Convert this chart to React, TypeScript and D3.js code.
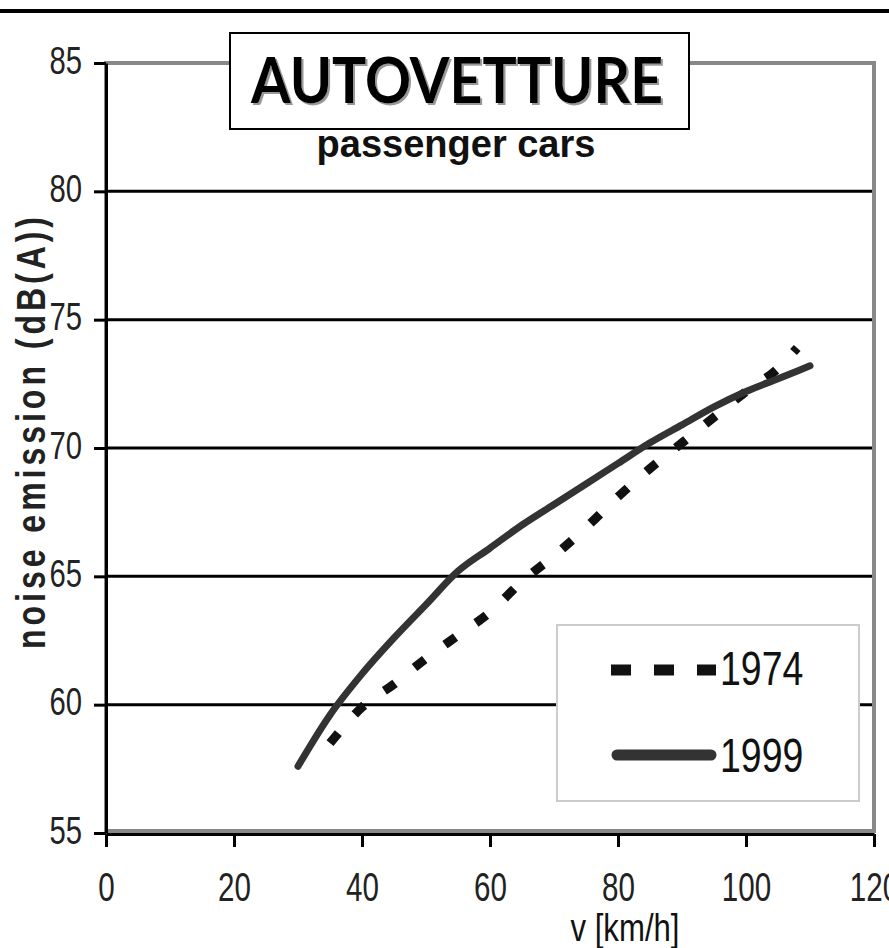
import React, { useEffect, useRef } from 'react';
import * as d3 from 'd3';

// values
const speeds1974 = [35, 40, 45, 50, 55, 60, 65, 70, 75, 80, 85, 90, 95, 100, 105, 108];
const noise1974 = [58.5, 59.9, 60.8, 61.8, 62.7, 63.6, 64.8, 65.8, 66.9, 68.1, 69.2, 70.2, 71.2, 72.2, 73.1, 73.9];
const speeds1999 = [30, 35, 40, 45, 50, 55, 60, 65, 70, 75, 80, 85, 90, 95, 100, 105, 110];
const noise1999 = [57.6, 59.6, 61.2, 62.6, 63.9, 65.2, 66.1, 67.0, 67.8, 68.6, 69.4, 70.2, 70.9, 71.6, 72.2, 72.7, 73.2];
const years = ['1974', '1999'];
const xTicks = [0, 20, 40, 60, 80, 100, 120];
const yTicks = [55, 60, 65, 70, 75, 80, 85];

const W = 889;
const H = 948;
const FONT = '"Liberation Sans", Arial, sans-serif';

const App: React.FC = () => {
  const svgRef = useRef<SVGSVGElement>(null);

  useEffect(() => {
    if (!svgRef.current) return;
    const svg = d3.select(svgRef.current);
    svg.selectAll('*').remove();

    const x = d3.scaleLinear().domain([0, 120]).range([106, 874]);
    const y = d3.scaleLinear().domain([55, 85]).range([833, 63]);

    // drop shadow for the title
    const filter = svg.append('defs').append('filter')
      .attr('id', 'titleShadow')
      .attr('x', '-5%').attr('y', '-10%').attr('width', '110%').attr('height', '130%');
    filter.append('feDropShadow')
      .attr('dx', 2).attr('dy', 2).attr('stdDeviation', 0.4)
      .attr('flood-color', '#999').attr('flood-opacity', 1);

    svg.append('rect').attr('width', W).attr('height', H).attr('fill', '#fff');

    // rule across the top
    svg.append('rect').attr('x', 0).attr('y', 9).attr('width', W).attr('height', 4).attr('fill', '#000');

    // grey plot frame
    svg.append('rect')
      .attr('x', x(0)).attr('y', y(85))
      .attr('width', x(120) - x(0)).attr('height', y(55) - y(85) - 2)
      .attr('fill', 'none').attr('stroke', '#888').attr('stroke-width', 4);

    // grid lines
    svg.append('g').selectAll('line')
      .data(yTicks.filter(t => t > 55 && t < 85))
      .enter().append('line')
      .attr('x1', x(0)).attr('x2', x(120) - 2)
      .attr('y1', d => y(d)).attr('y2', d => y(d))
      .attr('stroke', '#000').attr('stroke-width', 3);

    // y axis
    const yAxis = svg.append('g')
      .attr('transform', `translate(${x(0)},0)`)
      .call(d3.axisLeft(y).tickValues(yTicks).tickSize(12).tickSizeOuter(0).tickFormat(d3.format('d')));
    yAxis.select('.domain').attr('stroke', '#000').attr('stroke-width', 3);
    yAxis.selectAll('.tick line').attr('stroke', '#000').attr('stroke-width', 3);
    yAxis.selectAll('.tick text')
      .attr('x', null).attr('dy', null)
      .attr('transform', 'translate(-24,10) scale(0.75,1)')
      .attr('text-anchor', 'end')
      .attr('font-size', 39).attr('font-family', FONT).attr('fill', '#222');

    // x axis
    const xAxis = svg.append('g')
      .attr('transform', `translate(0,${y(55) + 1})`)
      .call(d3.axisBottom(x).tickValues(xTicks).tickSize(13).tickSizeOuter(0).tickFormat(d3.format('d')));
    xAxis.select('.domain').attr('stroke', '#000').attr('stroke-width', 3);
    xAxis.selectAll('.tick line').attr('stroke', '#000').attr('stroke-width', 3);
    xAxis.selectAll('.tick text')
      .attr('y', null).attr('dy', null)
      .attr('transform', 'translate(0,67) scale(0.74,1)')
      .attr('text-anchor', 'middle')
      .attr('font-size', 40).attr('font-family', FONT).attr('fill', '#222');

    // series
    const line = (xs: number[]) => d3.line<number>()
      .x((_, i) => x(xs[i]))
      .y(d => y(d))
      .curve(d3.curveMonotoneX);

    svg.append('path')
      .datum(noise1974)
      .attr('d', line(speeds1974))
      .attr('fill', 'none').attr('stroke', '#111')
      .attr('stroke-width', 9).attr('stroke-dasharray', '13,25');

    svg.append('path')
      .datum(noise1999)
      .attr('d', line(speeds1999))
      .attr('fill', 'none').attr('stroke', '#333')
      .attr('stroke-width', 7).attr('stroke-linecap', 'round');

    // legend
    const lg = svg.append('g');
    lg.append('rect')
      .attr('x', 557).attr('y', 625).attr('width', 302).attr('height', 176)
      .attr('fill', '#fff').attr('stroke', '#ccc').attr('stroke-width', 2);
    const rows = [
      { y: 670, dash: '20,23', color: '#111', cap: 'butt', x1: 611, x2: 716, label: years[0], base: 685 },
      { y: 755, dash: null, color: '#333', cap: 'round', x1: 617, x2: 711, label: years[1], base: 772 },
    ];
    rows.forEach(r => {
      lg.append('line')
        .attr('x1', r.x1).attr('x2', r.x2).attr('y1', r.y).attr('y2', r.y)
        .attr('stroke', r.color).attr('stroke-width', 11)
        .attr('stroke-dasharray', r.dash)
        .attr('stroke-linecap', r.cap);
      lg.append('g')
        .attr('transform', `translate(720,${r.base}) scale(0.78,1)`)
        .append('text')
        .attr('font-size', 48).attr('font-family', FONT).attr('fill', '#111')
        .text(r.label);
    });

    // title box
    svg.append('rect')
      .attr('x', 230).attr('y', 33).attr('width', 459).attr('height', 96)
      .attr('fill', '#fff').attr('stroke', '#000').attr('stroke-width', 2);
    svg.append('text')
      .attr('x', 251).attr('y', 103)
      .attr('textLength', 412).attr('lengthAdjust', 'spacingAndGlyphs')
      .attr('font-size', 63).attr('font-weight', 'bold')
      .attr('font-family', 'Lato, "Open Sans", sans-serif')
      .attr('fill', '#000')
      .attr('filter', 'url(#titleShadow)')
      .text('AUTOVETTURE');

    svg.append('text')
      .attr('x', 456).attr('y', 157)
      .attr('text-anchor', 'middle')
      .attr('font-size', 38).attr('font-weight', 'bold').attr('font-family', FONT)
      .attr('fill', '#111')
      .text('passenger cars');

    // axis titles
    svg.append('g')
      .attr('transform', 'translate(45,433) rotate(-90) scale(0.8,1)')
      .append('text')
      .attr('text-anchor', 'middle')
      .attr('textLength', 540).attr('lengthAdjust', 'spacing')
      .attr('font-size', 40).attr('font-weight', 'bold').attr('font-family', FONT)
      .attr('fill', '#222')
      .text('noise emission (dB(A))');

    svg.append('g')
      .attr('transform', 'translate(625,941) scale(0.82,1)')
      .append('text')
      .attr('text-anchor', 'middle')
      .attr('font-size', 38).attr('font-family', FONT).attr('fill', '#111')
      .text('v [km/h]');
  }, []);

  return (
    <svg
      ref={svgRef}
      width={W}
      height={H}
      style={{ position: 'absolute', left: 0, top: 0, display: 'block' }}
    />
  );
};

export default App;
